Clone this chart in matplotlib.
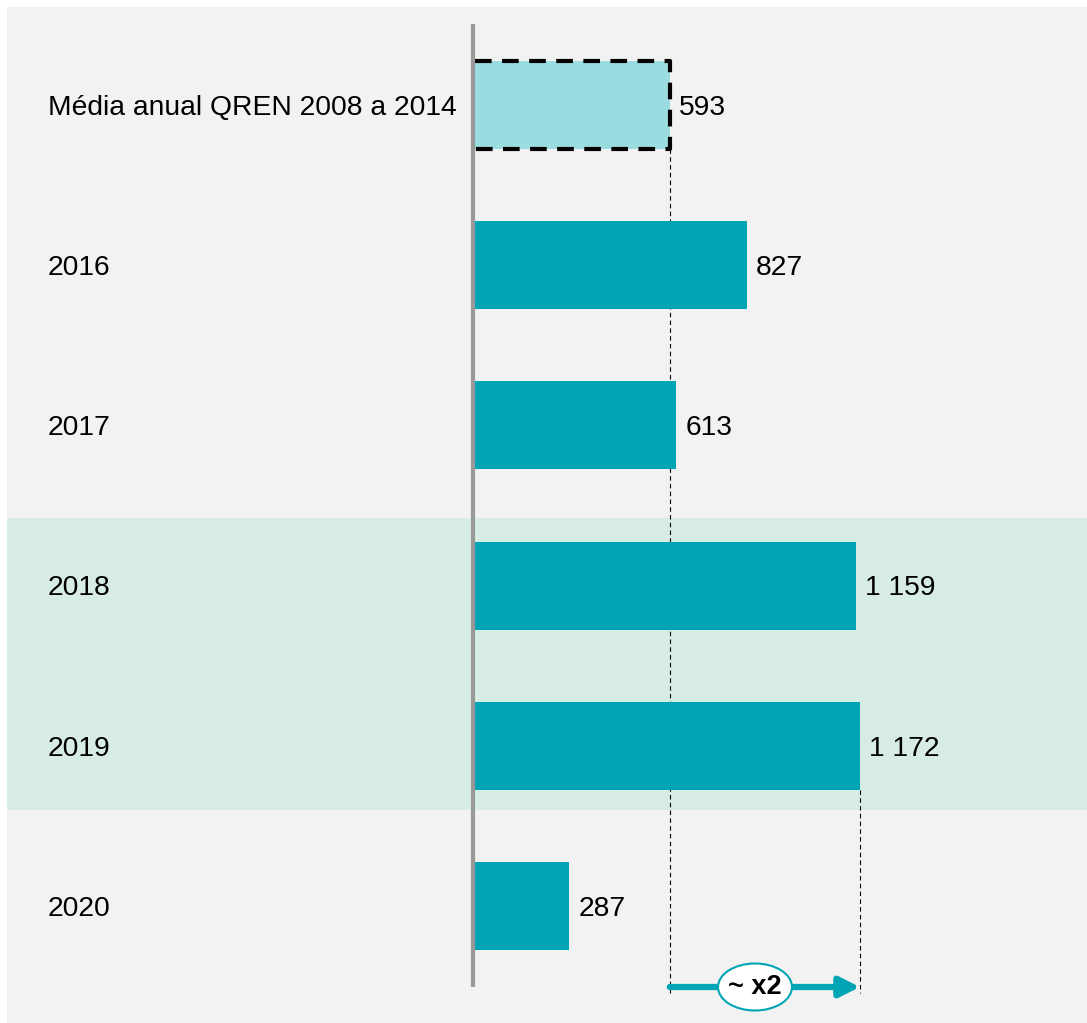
import matplotlib
matplotlib.use("Agg")
import matplotlib.pyplot as plt
import matplotlib.transforms as mtransforms
from matplotlib.patches import Rectangle, Ellipse

plt.rcParams['font.family'] = ['Liberation Sans', 'DejaVu Sans']

# Dados
categorias = ["Média anual QREN 2008 a 2014", "2016", "2017", "2018", "2019", "2020"]
valores = [593, 827, 613, 1159, 1172, 287]
destaque = ["2018", "2019"]
rotulo_seta = "~ x2"

teal = "#00A5B5"
teal_claro = "#9BDCE1"
fundo = "#F2F2F2"
faixa = "#D6ECE5"

W, H = 1087, 1023
fig = plt.figure(figsize=(W / 100, H / 100), dpi=100)
fig.patch.set_facecolor("white")

# painel cinzento de fundo
fig.patches.append(Rectangle((7 / W, 0), 1, (H - 7) / H,
                             transform=fig.transFigure, facecolor=fundo,
                             edgecolor="none", zorder=0))

ax = fig.add_axes([475 / W, 0, 1 - 475 / W, 1])
ax.set_zorder(2)
ax.patch.set_visible(False)
px = 0.3285                     # pixels por unidade
passo = 160.2                   # pixels entre linhas
ax.set_xlim(0, (W - 475) / px)
ax.set_ylim((H - 105) / passo, -105 / passo)
ax.axis("off")

y = list(range(len(categorias)))
alt = 88 / passo

# faixa verde para 2018-2019
i0 = categorias.index(destaque[0])
i1 = categorias.index(destaque[-1])
trans = mtransforms.blended_transform_factory(fig.transFigure, ax.transData)
fig.patches.append(Rectangle((7 / W, i0 - 0.42), 1, (i1 - i0) + 0.82,
                             transform=trans, facecolor=faixa,
                             edgecolor="none", zorder=0.5))

# barras
cores = [teal_claro] + [teal] * (len(valores) - 1)
ax.barh(y, valores, height=alt, color=cores, zorder=2)

# contorno tracejado da média (sem o lado esquerdo)
v0 = valores[0]
ax.plot([0, v0, v0, 0], [y[0] - alt / 2, y[0] - alt / 2, y[0] + alt / 2, y[0] + alt / 2],
        color="black", lw=3, ls=(0, (4, 2.5)), zorder=3)

# eixo vertical
ax.plot([-2 / px, -2 / px], [(24 - 105) / passo, (987 - 105) / passo],
        color="#999999", lw=3, solid_capstyle="butt", zorder=4,
        clip_on=False)

# rótulos das categorias
for yi, c in zip(y, categorias):
    ax.annotate(c, (48 / W, yi), xycoords=trans, xytext=(0, -2),
                textcoords="offset points", ha="left", va="center",
                fontsize=20.3, color="black")

# valores
for yi, v in zip(y, valores):
    ax.annotate(f"{v:,}".replace(",", " "), (v, yi), xytext=(6.5, -2),
                textcoords="offset points", ha="left", va="center",
                fontsize=20.3, color="black")

# linhas tracejadas de referência
y_seta = (987 - 105) / passo
y_fim = (993 - 105) / passo
i_max = valores.index(max(valores))
for i in (0, i_max):
    ax.plot([valores[i], valores[i]], [y[i] + alt / 2, y_fim], color="black",
            lw=0.8, ls=(0, (4, 3)), zorder=1)

# seta ~x2
ax.annotate("", xy=(valores[i_max], y_seta), xytext=(valores[0], y_seta),
            arrowprops=dict(arrowstyle="-|>,head_length=12,head_width=6",
                            mutation_scale=1, color=teal, lw=4.5,
                            shrinkA=0, shrinkB=0), zorder=4)
xc = (755 - 475) / px
ax.add_patch(Ellipse((xc, y_seta), 74 / px, 47 / passo, facecolor="white",
                     edgecolor=teal, lw=1.5, zorder=5))
ax.text(xc, y_seta, rotulo_seta, ha="center", va="center", fontsize=19.5,
        fontweight="bold", zorder=6)

fig.savefig("out.png", dpi=100)
